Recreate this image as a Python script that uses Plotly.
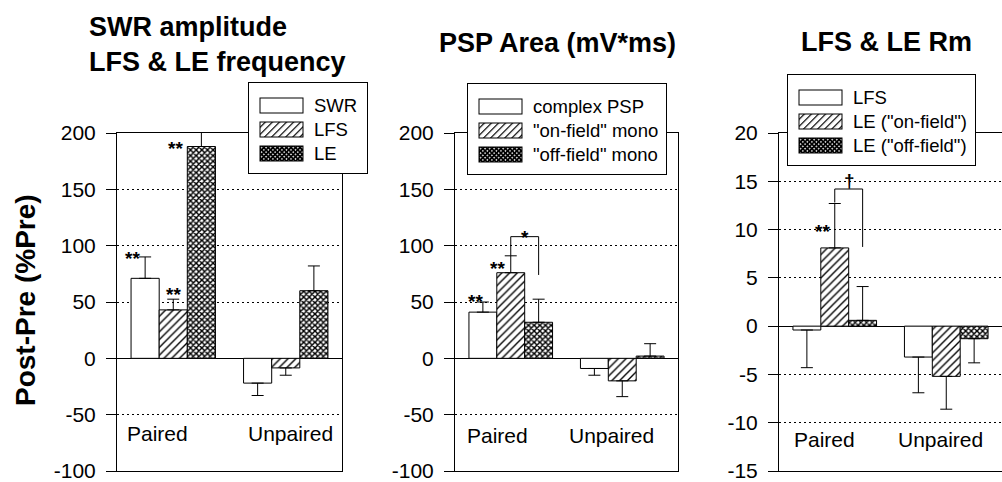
import base64
import plotly.graph_objects as go

FIG_W, FIG_H = 1002, 482
FONT = "Liberation Sans, Arial, Helvetica, sans-serif"

groups = ["Paired", "Unpaired"]

# ---------------- data ----------------
# Panel 1: SWR amplitude, LFS & LE frequency
p1_names = ["SWR", "LFS", "LE"]
p1_swr = [71, -22]
p1_swr_sem = [19, 11]
p1_lfs = [43, -8.5]
p1_lfs_sem = [9.5, 6.5]
p1_le = [188, 60]
p1_le_sem = [13, 22]

# Panel 2: PSP area
p2_names = ["complex PSP", '"on-field" mono', '"off-field" mono']
p2_complex = [41, -9]
p2_complex_sem = [9, 6]
p2_on = [76, -20]
p2_on_sem = [15, 14]
p2_off = [32, 2]
p2_off_sem = [20.5, 11]

# Panel 3: LFS & LE Rm
p3_names = ["LFS", 'LE ("on-field")', 'LE ("off-field")']
p3_lfs = [-0.4, -3.2]
p3_lfs_sem = [3.9, 3.7]
p3_on = [8.1, -5.2]
p3_on_sem = [4.6, 3.4]
p3_off = [0.6, -1.3]
p3_off_sem = [3.5, 2.5]

titles = ["SWR amplitude<br>LFS & LE frequency", "PSP Area (mV*ms)", "LFS & LE Rm"]
y_title = "Post-Pre (%Pre)"
p12_ticks = [-100, -50, 0, 50, 100, 150, 200]
p3_ticks = [-15, -10, -5, 0, 5, 10, 15, 20]

# significance markers: (text, x offset from "Paired" index, y value)
p1_sig_text = ["**", "**", "**"]
p1_sig_x = [-0.36, 0.0, 0.02]
p1_sig_y = [93, 61, 191]
p2_sig_text = ["**", "**", "*"]
p2_sig_x = [-0.32, -0.12, 0.125]
p2_sig_y = [55, 84, 112]
p3_sig_text = ["**", "\u2020"]
p3_sig_x = [-0.11, 0.135]
p3_sig_y = [10.3, 15.1]
# comparison brackets (left leg bottom, top, right leg bottom)
p2_bracket_y = [91, 108, 74]
p3_bracket_y = [12.8, 14.2, 8.2]
bracket_x = [0.0, 0.25]

# ---------------- layout geometry (pixels) ----------------
x_domains_px = [(117, 342), (455, 678), (779, 1002)]
y_top_px, y_bot_px = 133, 471


def px_x(p):
    return p / FIG_W


def px_y(p):
    return 1 - p / FIG_H


styles = [
    dict(color="white"),
    dict(color="white", pattern=dict(shape="/", fgcolor="black", bgcolor="white",
                                     size=5.5, solidity=0.25, fillmode="replace")),
    dict(color="white", pattern=dict(shape="x", fgcolor="black", bgcolor="white",
                                     size=4, solidity=0.6, fillmode="replace")),
]

panels = [
    (p1_names, [p1_swr, p1_lfs, p1_le], [p1_swr_sem, p1_lfs_sem, p1_le_sem]),
    (p2_names, [p2_complex, p2_on, p2_off], [p2_complex_sem, p2_on_sem, p2_off_sem]),
    (p3_names, [p3_lfs, p3_on, p3_off], [p3_lfs_sem, p3_on_sem, p3_off_sem]),
]

fig = go.Figure()

for i, (names, vals, sems) in enumerate(panels):
    ax = "" if i == 0 else str(i + 1)
    for j in range(3):
        v, s = vals[j], sems[j]
        up = [e if y >= 0 else 0 for y, e in zip(v, s)]
        down = [0 if y >= 0 else e for y, e in zip(v, s)]
        marker = dict(styles[j])
        marker["line"] = dict(color="black", width=1)
        fig.add_trace(go.Bar(
            x=groups, y=v, name=names[j], marker=marker,
            error_y=dict(type="data", symmetric=False, array=up, arrayminus=down,
                         color="black", thickness=1, width=6),
            xaxis="x" + ax, yaxis="y" + ax, showlegend=False,
        ))

layout = dict(
    template="none",
    width=FIG_W, height=FIG_H, autosize=False,
    margin=dict(l=0, r=0, t=0, b=0, pad=0, autoexpand=False),
    paper_bgcolor="white", plot_bgcolor="white",
    barmode="group", bargap=0.25, bargroupgap=0,
    showlegend=False,
    font=dict(family=FONT, color="black"),
)

tick_sets = [p12_ticks, p12_ticks, p3_ticks]
for i in range(3):
    ax = "" if i == 0 else str(i + 1)
    x0, x1 = x_domains_px[i]
    ticks = tick_sets[i]
    layout["xaxis" + ax] = dict(
        domain=[px_x(x0), min(1.0, px_x(x1))], type="category", range=[-0.5, 1.5],
        showline=True, mirror=True, linecolor="black", linewidth=1,
        ticks="", showticklabels=False, showgrid=False, zeroline=False,
        anchor="y" + ax, fixedrange=True, automargin=False,
    )
    layout["yaxis" + ax] = dict(
        domain=[px_y(y_bot_px), px_y(y_top_px)], range=[ticks[0], ticks[-1]],
        tickmode="array", tickvals=ticks, ticktext=[str(t) for t in ticks],
        ticks="outside", ticklen=10, tickcolor="black", tickwidth=1,
        ticklabelstandoff=6, ticklabeloverflow="allow",
        tickfont=dict(family=FONT, size=21, color="black"),
        showline=True, mirror=True, linecolor="black", linewidth=1,
        showgrid=True, gridcolor="black", gridwidth=1, griddash="2px,3px",
        zeroline=True, zerolinecolor="black", zerolinewidth=1,
        anchor="x" + ax, fixedrange=True, automargin=False,
    )

annotations = []
shapes = []
images = []

# titles
annotations.append(dict(text="<b>" + titles[0].replace("<br>", "</b><br><b>") + "</b>",
                         x=px_x(87), y=px_y(44), xref="paper", yref="paper",
                         xanchor="left", yanchor="middle", align="left", showarrow=False,
                         font=dict(family=FONT, size=27, color="black")))
annotations.append(dict(text="<b>" + titles[1] + "</b>", x=px_x(557), y=px_y(43),
                        xref="paper", yref="paper", xanchor="center", yanchor="middle",
                        showarrow=False, font=dict(family=FONT, size=27, color="black")))
annotations.append(dict(text="<b>" + titles[2] + "</b>", x=px_x(886), y=px_y(42),
                        xref="paper", yref="paper", xanchor="center", yanchor="middle",
                        showarrow=False, font=dict(family=FONT, size=27, color="black")))
annotations.append(dict(text="<b>" + y_title + "</b>", x=px_x(25), y=px_y(300),
                        xref="paper", yref="paper", xanchor="center", yanchor="middle",
                        textangle=-90, showarrow=False,
                        font=dict(family=FONT, size=28, color="black")))

# group labels inside plots
group_label_x = [[-0.136, 1.04], [-0.123, 0.908], [-0.096, 0.944]]
group_label_y = [-67, -68.5, -11.7]
for i in range(3):
    ax = "" if i == 0 else str(i + 1)
    for g, gx in zip(groups, group_label_x[i]):
        annotations.append(dict(text=g, x=gx, y=group_label_y[i], xref="x" + ax, yref="y" + ax,
                                xanchor="center", yanchor="middle", showarrow=False,
                                font=dict(family=FONT, size=21, color="black")))

# significance markers
for i, (txts, xs, ys) in enumerate([(p1_sig_text, p1_sig_x, p1_sig_y),
                                      (p2_sig_text, p2_sig_x, p2_sig_y),
                                      (p3_sig_text, p3_sig_x, p3_sig_y)]):
    ax = "" if i == 0 else str(i + 1)
    for t, x, y in zip(txts, xs, ys):
        annotations.append(dict(text="<b>" + t + "</b>", x=x, y=y,
                                xref="x" + ax, yref="y" + ax,
                                xanchor="center", yanchor="middle", showarrow=False,
                                yshift=-5 if t != "\u2020" else 0,
                                font=dict(family=FONT, size=19, color="black")))

# brackets
for ax, by in (("2", p2_bracket_y), ("3", p3_bracket_y)):
    segs = [(bracket_x[0], by[0], bracket_x[0], by[1]),
            (bracket_x[0], by[1], bracket_x[1], by[1]),
            (bracket_x[1], by[1], bracket_x[1], by[2])]
    for (xa, ya, xb, yb) in segs:
        shapes.append(dict(type="line", xref="x" + ax, yref="y" + ax,
                           x0=xa, y0=ya, x1=xb, y1=yb,
                           line=dict(color="black", width=1)))


# legends: box + patterned swatches drawn as an SVG image, labels as text
def legend_svg(w, h, rows_y, sw_x):
    fills = ["white", "url(#hatch)", "url(#cross)"]
    parts = [
        f'<svg xmlns="http://www.w3.org/2000/svg" width="{w}" height="{h}" viewBox="0 0 {w} {h}" preserveAspectRatio="none">',
        '<defs>',
        '<pattern id="hatch" width="5" height="5" patternUnits="userSpaceOnUse" patternTransform="rotate(45)">'
        '<rect width="5" height="5" fill="white"/>'
        '<line x1="0.6" y1="0" x2="0.6" y2="5" stroke="black" stroke-width="1.2"/></pattern>',
        '<pattern id="cross" width="3.2" height="3.2" patternUnits="userSpaceOnUse" patternTransform="rotate(45)">'
        '<rect width="3.2" height="3.2" fill="black"/>'
        '<rect x="0.9" y="0.9" width="1.4" height="1.4" fill="white"/></pattern>',
        '</defs>',
        f'<rect x="0.5" y="0.5" width="{w - 1}" height="{h - 1}" fill="white" stroke="black" stroke-width="1"/>',
    ]
    for cy, fill in zip(rows_y, fills):
        parts.append(f'<rect x="{sw_x + 0.5}" y="{cy - 7.5}" width="43" height="15" '
                     f'fill="{fill}" stroke="black" stroke-width="1"/>')
    parts.append('</svg>')
    return "".join(parts)


legend_boxes = [(248, 82, 120, 92), (467, 83, 200, 92), (787, 74, 189, 92)]
rows_rel = [23.5, 47.5, 71.5]
for (left, top, w, h), (names, _, _) in zip(legend_boxes, panels):
    svg = legend_svg(w, h, rows_rel, 11.5)
    src = "data:image/svg+xml;base64," + base64.b64encode(svg.encode()).decode()
    images.append(dict(source=src, xref="paper", yref="paper",
                       x=px_x(left), y=px_y(top), sizex=w / FIG_W, sizey=h / FIG_H,
                       xanchor="left", yanchor="top", sizing="stretch", layer="above"))
    for ry, name in zip(rows_rel, names):
        annotations.append(dict(text=name, x=px_x(left + 64), y=px_y(top + ry),
                                xref="paper", yref="paper", xanchor="left", yanchor="middle",
                                showarrow=False, font=dict(family=FONT, size=18.5, color="black")))

layout["annotations"] = annotations
layout["shapes"] = shapes
layout["images"] = images
fig.update_layout(**layout)

# remove the default page margin so the figure sits at the window origin
fig.write_html("out.html",
               config={"displayModeBar": False, "staticPlot": True},
               post_script="document.body.style.margin='0';document.body.style.overflow='hidden';")
